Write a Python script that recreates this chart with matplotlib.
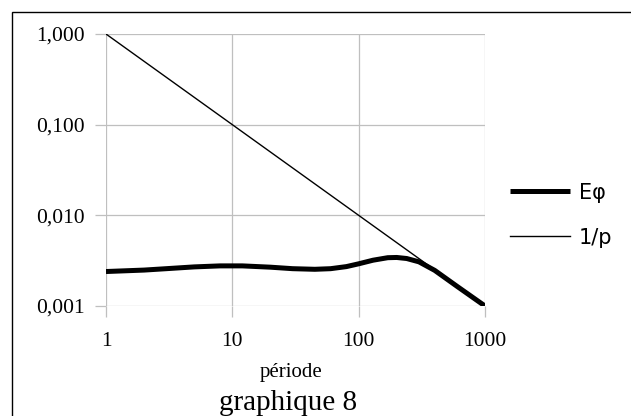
import matplotlib
matplotlib.use("Agg")
import matplotlib.pyplot as plt
from matplotlib.patches import Rectangle

# data
periode = [1, 2, 3, 5, 8, 12, 20, 30, 45, 60, 80, 100, 130, 170, 200, 240, 300, 400, 600, 1000]
e_phi = [0.00240, 0.00249, 0.00258, 0.00270, 0.00277, 0.00277, 0.00268, 0.00258, 0.00254, 0.00258, 0.00272,
         0.00292, 0.00320, 0.00341, 0.00343, 0.00334, 0.00307, 0.00247, 0.00165, 0.00100]
p_inv_x = [1, 10, 100, 1000]
p_inv_y = [1.0, 0.1, 0.01, 0.001]

xticks = [1, 10, 100, 1000]
xtick_labels = ['1', '10', '100', '1000']
yticks = [0.001, 0.01, 0.1, 1.0]
ytick_labels = ['0,001', '0,010', '0,100', '1,000']

W, H = 631, 416
fig = plt.figure(figsize=(W / 100, H / 100), dpi=100)
ax = fig.add_axes([106 / W, 1 - 306 / H, (485 - 106) / W, (306 - 34) / H])

ax.plot(periode, e_phi, color='black', lw=3.6, label='E\u03c6', solid_capstyle='butt')
ax.plot(p_inv_x, p_inv_y, color='black', lw=1.0, label='1/p')

ax.set_xscale('log')
ax.set_yscale('log')
ax.set_xlim(1, 1000)
ax.set_ylim(0.001, 1)
ax.minorticks_off()
ax.set_xticks(xticks)
ax.set_xticklabels(xtick_labels)
ax.set_yticks(yticks)
ax.set_yticklabels(ytick_labels)

grid_c = '#bfbfbf'
ax.grid(True, color=grid_c, lw=0.9)
ax.set_axisbelow(True)
for s in ax.spines.values():
    s.set_visible(False)
ax.tick_params(axis='both', color=grid_c, length=8, width=0.9)
ax.tick_params(axis='x', pad=11)
ax.tick_params(axis='y', pad=7)
for lab in ax.get_xticklabels() + ax.get_yticklabels():
    lab.set_fontfamily('Liberation Serif')
    lab.set_fontsize(15.5)

fig.text(291 / W, 1 - 373 / H, 'p\u00e9riode', family='Liberation Serif', fontsize=15,
         ha='center', va='center')
fig.text(288 / W, 1 - 403 / H, 'graphique 8', family='Liberation Serif', fontsize=21,
         ha='center', va='center')

leg = fig.legend(loc='center left', bbox_to_anchor=(510 / W, 1 - 215 / H), frameon=False,
                 borderpad=0, borderaxespad=0, handlelength=2.9, handletextpad=0.4,
                 labelspacing=1.2, prop={'family': 'DejaVu Sans', 'size': 15})

fig.add_artist(Rectangle((12 / W, -0.1), 1.2, 1.1 - 12 / H, transform=fig.transFigure,
                         fill=False, edgecolor='black', lw=1.0))

fig.savefig('out.png', dpi=100)
